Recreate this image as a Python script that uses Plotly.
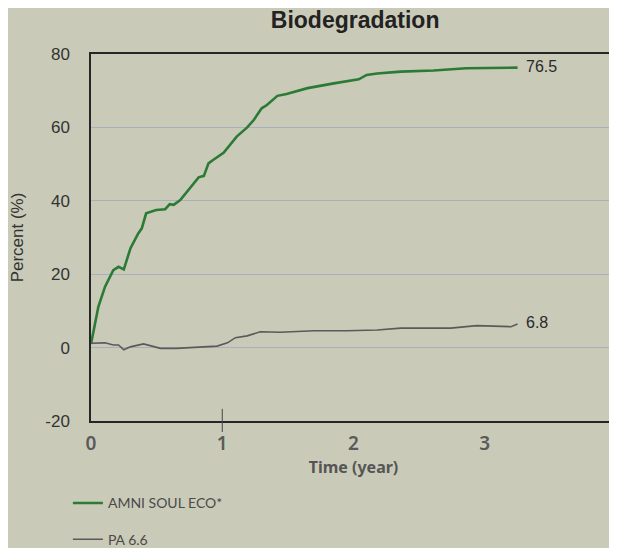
import plotly.graph_objects as go

# ---- data ----
eco_years = [0.0, 0.056, 0.107, 0.17, 0.21, 0.25, 0.30, 0.36, 0.387, 0.42, 0.497, 0.565, 0.60, 0.63,
             0.68, 0.756, 0.82, 0.86, 0.895, 0.93, 1.01, 1.11, 1.19, 1.24, 1.30, 1.34, 1.42, 1.49,
             1.65, 1.85, 2.04, 2.10, 2.18, 2.36, 2.61, 2.86, 3.25]
eco_pct = [1.0, 11.1, 16.6, 21.1, 22.0, 21.3, 27.0, 31.1, 32.5, 36.6, 37.5, 37.7, 39.1, 38.9,
           40.2, 43.4, 46.4, 46.8, 50.2, 51.1, 53.1, 57.5, 60.0, 62.0, 65.2, 66.1, 68.6, 69.1,
           70.7, 72.0, 73.1, 74.3, 74.7, 75.2, 75.5, 76.1, 76.3]

pa_years = [0.0, 0.107, 0.17, 0.21, 0.25, 0.30, 0.40, 0.53, 0.65, 0.81, 0.96, 1.04, 1.10, 1.19,
            1.29, 1.44, 1.70, 1.95, 2.18, 2.36, 2.74, 2.94, 3.20, 3.25]
pa_pct = [1.2, 1.3, 0.7, 0.7, -0.6, 0.2, 1.0, -0.2, -0.2, 0.2, 0.4, 1.3, 2.7, 3.2,
          4.3, 4.2, 4.6, 4.6, 4.8, 5.3, 5.3, 6.0, 5.7, 6.4]

series_names = ["AMNI SOUL ECO*", "PA 6.6"]
end_labels = ["76.5", "6.8"]
end_values = [76.5, 6.8]

x_ticks = [0, 1, 2, 3, 4]
y_ticks = [-20, 0, 20, 40, 60, 80]
y_ticktext = ["-20", "0", "20", "40", "60", "80"]

# ---- style ----
BG = "#c9cbb8"
GREEN = "#2b7a35"
GRAY = "#5a5a5a"
GRID = "#a9afbf"
AXIS = "#262626"

fig = go.Figure()
fig.add_trace(go.Scatter(x=eco_years, y=eco_pct, mode="lines", name=series_names[0],
                         line=dict(color=GREEN, width=2.6), legendgroup="a"))
fig.add_trace(go.Scatter(x=pa_years, y=pa_pct, mode="lines", name=series_names[1],
                         line=dict(color=GRAY, width=1.6), legendgroup="b"))

# end-of-line value labels
for xs, val, txt in [(eco_years, end_values[0], end_labels[0]), (pa_years, end_values[1], end_labels[1])]:
    fig.add_annotation(x=xs[-1], y=val, text=txt, showarrow=False, xanchor="left", xshift=6,
                       font=dict(family="Liberation Sans, Arial", size=16, color="#2a2a2a"))

# small tick mark crossing the bottom axis at year 1
fig.add_shape(type="line", xref="x", yref="paper", x0=x_ticks[1], x1=x_ticks[1], y0=-0.03, y1=0.033,
              line=dict(color="#444", width=1))

# The page body has an 8px margin, so the figure is sized to fit the 617x548 window.
fig.update_layout(
    width=609, height=540,
    paper_bgcolor=BG, plot_bgcolor=BG,
    margin=dict(l=83, r=1, t=46, b=127, autoexpand=False),
    title=dict(text="<b>Biodegradation</b>", x=0.57, xanchor="center", y=0.978, yanchor="middle",
               font=dict(family="Liberation Sans, Arial", size=23, color="#222")),
    showlegend=True,
    legend=dict(x=-0.044, xanchor="left", y=-0.181, yanchor="top", orientation="v",
                bgcolor="rgba(0,0,0,0)", tracegroupgap=15,
                font=dict(family="Lato, Noto Sans", size=14, color="#4a4a4a")),
    xaxis=dict(range=[0, 4], tickvals=x_ticks, ticktext=[str(v) for v in x_ticks],
               showgrid=False, zeroline=False, showline=True, linecolor=AXIS, linewidth=1.5,
               mirror=True, ticks="", ticklabelstandoff=4, automargin=False,
               ticklabeloverflow="allow",
               tickfont=dict(family="Noto Sans", size=19, color="#5a5a5a", weight=600),
               title=dict(text="Time (year)", standoff=5,
                          font=dict(family="Noto Sans", size=16, color="#555", weight=700))),
    yaxis=dict(range=[-20, 80], tickvals=y_ticks, ticktext=y_ticktext, showgrid=True,
               gridcolor=GRID, gridwidth=1, automargin=False,
               zeroline=False, showline=True, linecolor=AXIS, linewidth=1.5, mirror=True,
               ticks="", ticklabelstandoff=16,
               tickfont=dict(family="Liberation Sans, Arial", size=17, color="#333"),
               title=dict(text="Percent (%)", standoff=22,
                          font=dict(family="Liberation Sans, Arial", size=17, color="#333"))),
)

fig.write_html("out.html")
